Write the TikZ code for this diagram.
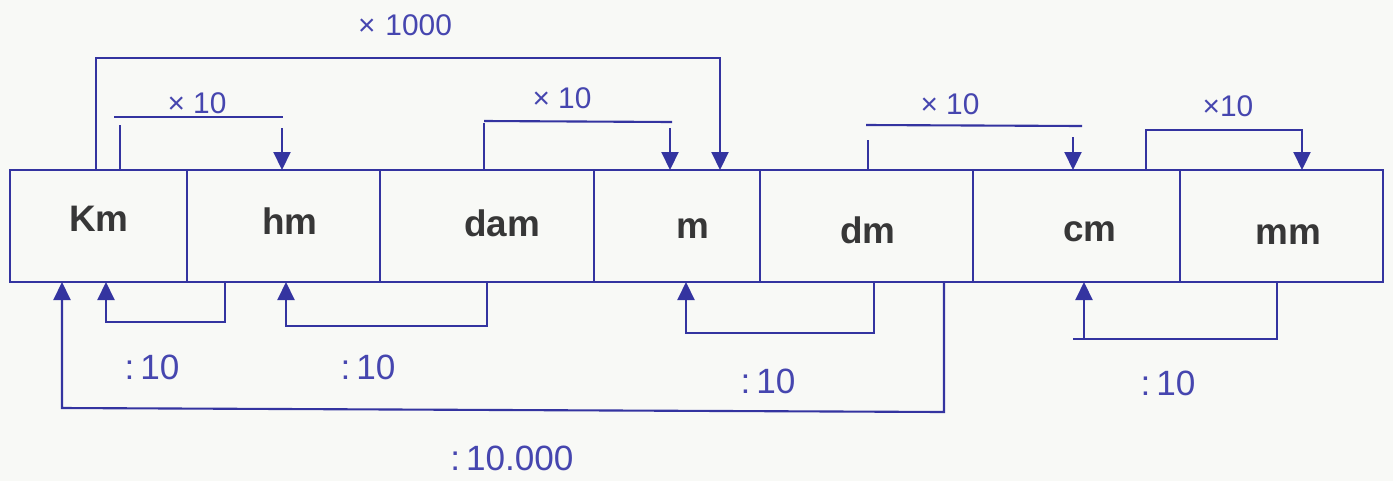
\documentclass[tikz,border=0pt]{standalone}
\usepackage{fontspec}
\setmainfont{Liberation Sans}
\usetikzlibrary{arrows.meta}
\definecolor{ink}{RGB}{52,52,160}
\definecolor{hand}{RGB}{70,70,175}
\definecolor{cellt}{RGB}{55,55,55}
\definecolor{paper}{RGB}{248,249,246}
\begin{document}
\begin{tikzpicture}[x=0.02cm,y=-0.02cm,
  cell/.style={draw=ink,line width=1.1pt,minimum height=2.24cm,inner sep=0pt},
  celltext/.style={inner sep=0pt,font=\fontsize{21}{24}\selectfont\bfseries,text=cellt},
  wire/.style={draw=ink,line width=1.2pt},
  arr/.style={wire,-{Triangle[width=0.34cm,length=0.36cm]}},
  mul/.style={text=hand,font=\fontsize{17}{20}\selectfont},
  dvd/.style={text=hand,font=\fontsize{20}{24}\selectfont}]
\fill[paper] (0,0) rectangle (1393,481);
\useasboundingbox (0,0) rectangle (1393,481);
% cells
\node[cell,minimum width=3.54cm] (km) at (98.5,226) {};
\node[cell,minimum width=3.86cm] (hm) at (283.5,226) {};
\node[cell,minimum width=4.28cm] (dam) at (487,226) {};
\node[cell,minimum width=3.32cm] (m) at (677,226) {};
\node[cell,minimum width=4.26cm] (dm) at (866.5,226) {};
\node[cell,minimum width=4.14cm] (cm) at (1076.5,226) {};
\node[cell,minimum width=4.06cm] (mm) at (1281.5,226) {};
% cell texts
\node[celltext] (kmt) at (99,219) {Km};
\node[celltext] (hmt) at (290,221) {hm};
\node[celltext] (damt) at (502,223) {dam};
\node[celltext] (mt) at (693,229) {m};
\node[celltext] (dmt) at (868,230) {dm};
\node[celltext] (cmt) at (1090,232) {cm};
\node[celltext] (mmt) at (1288,235) {mm};
% top anchor coordinates
\coordinate (t1) at (96,170);   \coordinate (t1e) at (720,170);
\coordinate (t2) at (120,170);  \coordinate (t2e) at (282,170);
\coordinate (t3) at (484,170);  \coordinate (t3e) at (670,170);
\coordinate (t4) at (868,170);  \coordinate (t4e) at (1073,170);
\coordinate (t5) at (1146,170); \coordinate (t5e) at (1302,170);
% bottom anchor coordinates
\coordinate (b1) at (225,282);  \coordinate (b1e) at (106,282);
\coordinate (b2) at (487,282);  \coordinate (b2e) at (286,282);
\coordinate (b3) at (874,282);  \coordinate (b3e) at (686,282);
\coordinate (b4) at (1277,282); \coordinate (b4e) at (1084,282);
\coordinate (b5) at (944,282);  \coordinate (b5e) at (62,282);
% x 1000
\draw[arr] (t1) -- (96,58) -- (720,58) -- (t1e);
\node[mul] (l1000) at (405,25) {×\,\,1000};
% x 10 : Km -> hm
\draw[wire] (114,117) -- (283,117);
\draw[wire] (120,125) -- (t2);
\draw[arr] (282,128) -- (t2e);
\node[mul] (lx1) at (197,103) {× 10};
% x 10 : dam -> m
\draw[wire] (484,121) -- (672,122);
\draw[wire] (484,123) -- (t3);
\draw[arr] (670,128) -- (t3e);
\node[mul] (lx2) at (562,98) {× 10};
% x 10 : dm -> cm
\draw[wire] (866,125) -- (1082,126);
\draw[wire] (868,140) -- (t4);
\draw[arr] (1073,137) -- (t4e);
\node[mul] (lx3) at (950,104) {× 10};
% x 10 : cm -> mm
\draw[arr] (t5) -- (1146,130) -- (1302,130) -- (t5e);
\node[mul] (lx4) at (1228,106) {×10};
% : 10 : hm -> Km
\draw[arr] (b1) -- (225,322) -- (106,322) -- (b1e);
\node[dvd] (d1) at (152,367) {:\,10};
% : 10 : dam -> hm
\draw[arr] (b2) -- (487,326) -- (286,326) -- (b2e);
\node[dvd] (d2) at (368,367) {:\,10};
% : 10 : dm -> m
\draw[arr] (b3) -- (874,333) -- (686,333) -- (b3e);
\node[dvd] (d3) at (768,381) {:\,10};
% : 10 : mm -> cm
\draw[wire] (b4) -- (1277,339) -- (1073,339);
\draw[arr] (1084,339) -- (b4e);
\node[dvd] (d4) at (1168,383) {:\,10};
% : 10.000 : cm -> Km
\draw[arr] (b5) -- (944,412) -- (62,408) -- (b5e);
\node[dvd] (d5) at (512,458) {:\,10.000};
\end{tikzpicture}
\end{document}
